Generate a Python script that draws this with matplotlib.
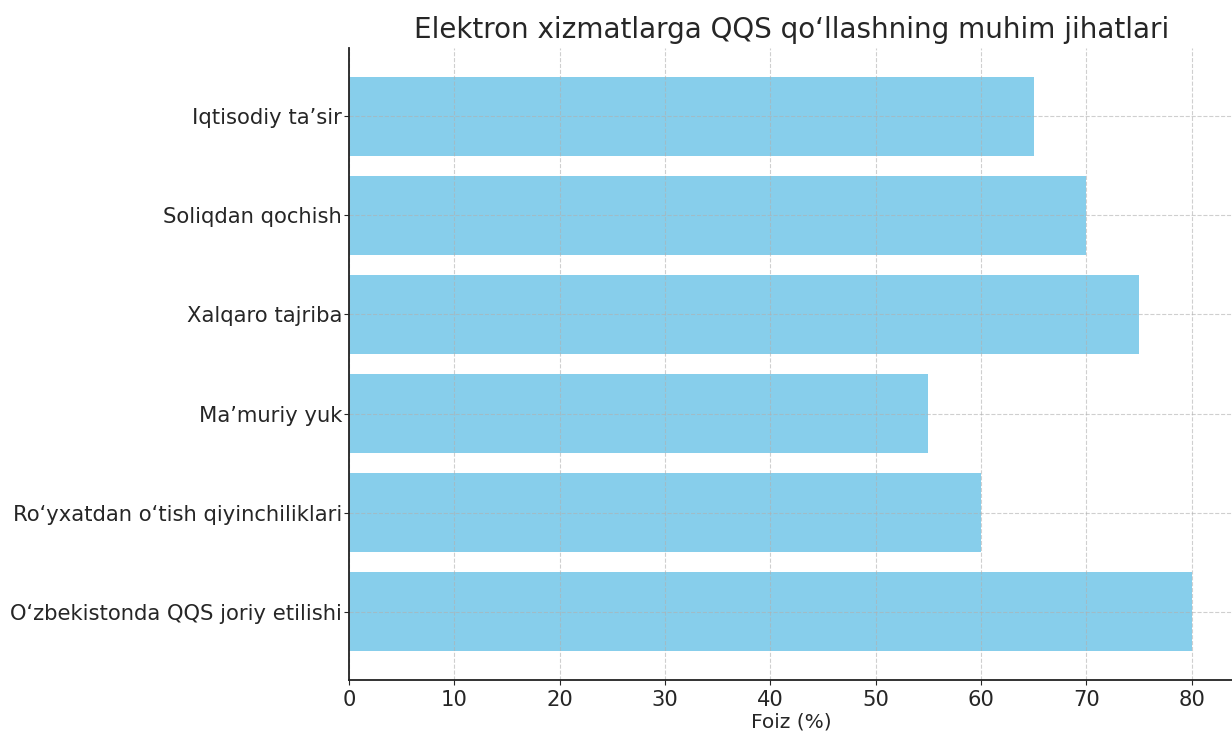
import matplotlib.pyplot as plt

# data (bottom to top)
categories = [
    "O‘zbekistonda QQS joriy etilishi",
    "Ro‘yxatdan o‘tish qiyinchiliklari",
    "Ma’muriy yuk",
    "Xalqaro tajriba",
    "Soliqdan qochish",
    "Iqtisodiy ta’sir",
]
values = [80, 60, 55, 75, 70, 65]

plt.rcParams['font.family'] = ['DejaVu Sans']
text_color = '#262626'

fig = plt.figure(figsize=(12.32, 7.33), dpi=100)
ax = fig.add_axes([0.2833, 0.0723, 0.7183, 0.8622])

ax.barh(categories, values, height=0.8, color='skyblue')

ax.set_title('Elektron xizmatlarga QQS qo‘llashning muhim jihatlari',
             fontsize=20, color=text_color, pad=7)
ax.set_xlabel('Foiz (%)', fontsize=14.5, color=text_color, labelpad=2)
ax.tick_params(axis='both', labelsize=15.2, colors=text_color)
ax.tick_params(axis='y', pad=1.5)
ax.set_xticks(range(0, 81, 10))
ax.grid(True, linestyle='--', alpha=0.6)

for s in ['top', 'right']:
    ax.spines[s].set_visible(False)
for s in ['left', 'bottom']:
    ax.spines[s].set_linewidth(1.3)
    ax.spines[s].set_color('#222222')

plt.savefig('out.png', dpi=100)
